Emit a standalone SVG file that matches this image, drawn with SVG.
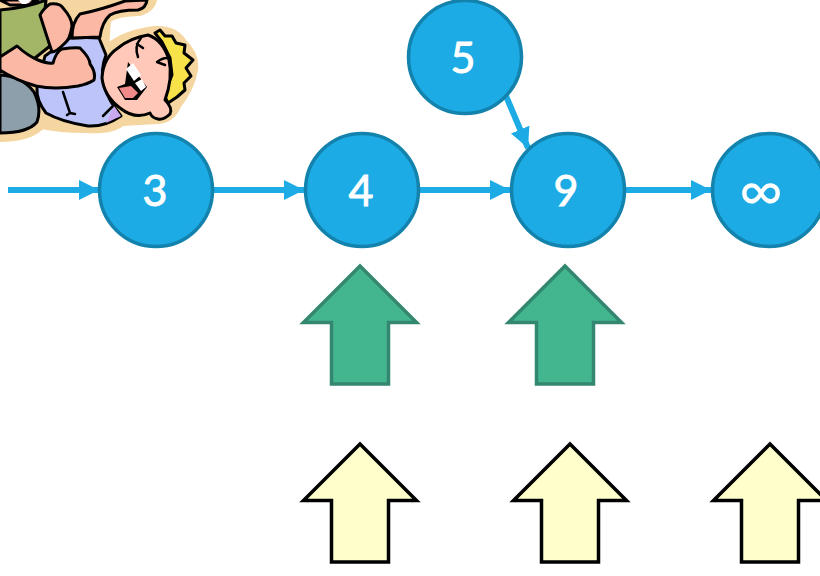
<svg xmlns="http://www.w3.org/2000/svg" width="820" height="576" viewBox="0 0 820 576">
  <style>
    .node circle { fill: #1CABE4; stroke: #1383AD; stroke-width: 3.5; }
    .node text { fill: #fff; stroke: #fff; stroke-width: 0.9; font-family: "Lato", "Liberation Sans", sans-serif; font-size: 43px; text-anchor: middle; }
    .link { fill: none; stroke: #1CABE4; stroke-width: 6; marker-end: url(#head); }
    .green { fill: #44B68F; stroke: #33866F; stroke-width: 3.5; }
    .pale { fill: #FFFFCC; stroke: #000; stroke-width: 3.5; }
    .ink { stroke: #000; stroke-width: 3; stroke-linejoin: round; stroke-linecap: round; }
    .line { fill: none; stroke: #000; stroke-width: 2.5; stroke-linecap: round; stroke-linejoin: round; }
  </style>
  <defs>
    <marker id="head" markerUnits="userSpaceOnUse" markerWidth="22" markerHeight="22" refX="20" refY="10" orient="auto">
      <path d="M0 0L20 10L0 20Z" fill="#1CABE4"/>
    </marker>
    <path id="up" d="M0 0L56.5 56.5H28.5V118H-28.5V56.5H-56.5Z"/>
  </defs>

  <rect width="820" height="576" fill="#fff"/>

  <!-- Cartoon of two wrestling kids, top left corner -->
  <g id="kids">
    <path fill="#F6D6A0" stroke="#F6D6A0" stroke-width="6" stroke-linejoin="round" d="M0 0H154Q152 9 140 13Q118 13 108 20L106 48Q125 32 155 29Q175 28 184 42Q197 55 195 70Q192 88 178 106Q172 120 158 121Q140 122 122 123Q112 132 85 130Q60 130 42 126Q30 139 0 139Z"/>
    <!-- grey trousers -->
    <path class="ink" fill="#8C9FAB" d="M0 75Q22 76 34 92Q42 108 37 122Q28 133 0 133Z"/>
    <!-- green shirt -->
    <path class="ink" fill="#A3B566" d="M0 10Q25 8 46 0L44 20L50 46L30 62L0 72Z"/>
    <!-- blue shirt -->
    <path class="ink" fill="#BDC4FA" d="M70 38Q88 37 99 38L106 55Q100 70 104 85Q108 100 121 116Q105 127 88 126Q62 122 46 113Q36 100 37 88L45 56Z"/>
    <path fill="#C9A8F0" d="M114 106L121 116L106 123Z"/>
    <path class="line" d="M63 92L70 113M70 113L67 115M70 113L75 114M112 107L103 116"/>
    <!-- far arm and hand -->
    <path class="ink" fill="#FBB9A5" d="M72 38Q72 22 80 14Q100 10 125 1L147 0Q146 8 138 10Q118 10 110 15Q102 22 100 37Z"/>
    <path class="ink" fill="#FBB9A5" d="M40 15Q44 8 50 4Q60 3 63 8Q72 18 72 26Q70 40 64 44Q56 52 52 52Q46 34 40 15Z"/>
    <!-- near arm and fist -->
    <path class="ink" fill="#FBB9A5" d="M0 57L17 46Q28 56 38 60Q48 64 53 63Q56 52 62 49Q75 47 80 48Q90 58 90 64Q96 72 94 80Q88 84 78 86Q55 90 36 86Q15 80 0 70Z"/>
    <!-- head: hair, face, features -->
    <path class="ink" fill="#F8E24A" d="M155 33L160 30L165 36L172 36L176 43L185 45L184 53L193 60L186 68L191 76L184 83L185 90L177 97L168 103L164 95L172 75L170 58L162 42Z"/>
    <path class="ink" fill="#FFC8B8" d="M102 78Q103 58 118 48Q130 38 148 35Q163 40 169 60Q173 78 165 100Q173 108 170 114Q164 120 158 119Q152 118 150 113Q135 120 120 108Q104 96 102 78Z"/>
    <path class="line" d="M141 38Q134 46 138 57M137 44L143 48M157 62Q162 58 167 58M157 62L165 65"/>
    <path fill="#000" d="M128 62L147 87L137 100L125 100L117 87L125 84Z"/>
    <path fill="#fff" d="M126 69L133 63L141 75L134 81Z"/>
    <path fill="#fff" d="M135 83L142 79L146 87L141 91Z"/>
    <path fill="#F08A8A" d="M119 88L131 86L138 93L133 98L125 98Z"/>
    <!-- top of the other kid's face -->
    <path class="ink" fill="#FBB9A5" d="M0 0H38L28 5H10Z"/>
    <path fill="#fff" d="M18 0H32L26 4H22Z"/>
  </g>

  <!-- Links between nodes -->
  <g id="connectors">
    <path class="link" d="M8 190H99"/>
    <path class="link" d="M214 190H304"/>
    <path class="link" d="M420 190H510"/>
    <path class="link" d="M625 190H711"/>
    <path class="link" d="M506 96L528 148"/>
  </g>

  <g id="node-3" class="node"><circle cx="156" cy="190" r="56.5"/><text x="155" y="206">3</text></g>
  <g id="node-4" class="node"><circle cx="362" cy="190" r="56.5"/><text x="361" y="206">4</text></g>
  <g id="node-9" class="node"><circle cx="568" cy="190" r="56.5"/><text x="566" y="206">9</text></g>
  <g id="node-inf" class="node"><circle cx="769" cy="190" r="56.5"/><text x="761" y="211" style="font-size:60px;stroke-width:0">∞</text></g>
  <g id="node-5" class="node"><circle cx="465" cy="57" r="56.5"/><text x="463" y="73">5</text></g>

  <!-- Upward markers -->
  <use id="green-1" class="green" href="#up" x="360" y="266"/>
  <use id="green-2" class="green" href="#up" x="565" y="266"/>
  <use id="pale-1" class="pale" href="#up" x="360" y="444"/>
  <use id="pale-2" class="pale" href="#up" x="570" y="444"/>
  <use id="pale-3" class="pale" href="#up" x="770" y="444"/>
</svg>
